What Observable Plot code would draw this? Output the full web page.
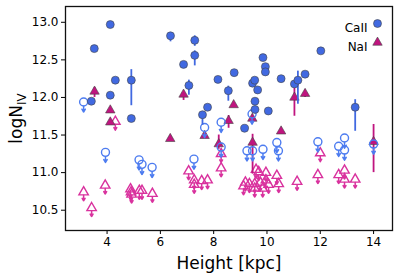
<!DOCTYPE html>
<html><head><meta charset="utf-8">
<script src="https://cdn.jsdelivr.net/npm/d3@7"></script>
<script src="https://cdn.jsdelivr.net/npm/@observablehq/plot@0.6"></script>
<style>body{margin:0;background:#fff}</style>
</head><body><div id="chart"></div>
<script>
// CaII detections: [height, logN, errLow, errHigh]
const caDet = [
 [3.41,11.95,null,null],[3.52,12.65,12.60,12.65],[4.12,12.97,null,null],[4.12,12.03,null,null],
 [4.31,12.23,12.18,12.23],[4.91,12.23,11.89,12.37],[4.91,11.72,null,null],[6.38,12.82,12.74,12.82],
 [6.87,12.44,null,null],[7.07,12.16,12.03,12.23],[7.29,12.76,12.68,12.82],[7.29,12.56,12.42,12.62],
 [7.58,11.77,11.63,11.77],[7.77,11.87,null,null],[8.16,12.24,null,null],[8.55,12.09,11.95,12.15],
 [8.77,12.33,null,null],[9.16,11.59,null,null],[9.46,12.19,null,null],[9.54,12.23,null,null],
 [9.55,11.95,null,null],[9.55,11.84,null,null],[9.65,12.10,null,null],[9.85,12.53,null,null],
 [9.94,12.41,null,null],[9.94,12.34,null,null],[10.05,11.82,null,null],[10.53,12.25,null,null],
 [11.03,12.18,null,null],[11.16,12.23,11.91,12.35],[11.43,12.31,null,null],[12.02,12.62,null,null],
 [13.31,11.87,11.55,11.97]
];
// CaII upper limits: [height, logN]
const caLim = [
 [3.12,11.94],[3.94,11.27],[5.20,11.17],[5.31,11.11],[5.69,11.07],[7.26,11.18],[7.66,11.60],
 [8.28,11.67],[8.28,11.34],[9.44,11.78],[9.25,11.29],[9.46,11.29],[9.85,11.31],[10.37,11.40],
 [10.43,11.29],[11.91,11.41],[12.69,11.35],[12.91,11.46],[12.91,11.30],[14.0,11.38]
];
// NaI detections: [height, logN, errLow, errHigh]
const naDet = [
 [3.53,12.08,12.00,12.13],[4.12,11.83,null,null],[4.12,11.67,null,null],[6.37,11.45,null,null],
 [6.87,12.04,11.96,12.06],[7.66,11.49,null,null],[8.19,11.38,11.31,11.50],[8.56,11.69,11.59,11.76],
 [8.75,11.90,null,null],[9.45,11.72,null,null],[9.46,11.40,10.98,11.51],[10.53,11.55,null,null],
 [11.03,12.00,11.75,12.12],[11.43,12.05,12.00,12.10],[14.0,11.41,11.00,11.64]
];
// NaI upper limits: [height, logN]
const naLim = [
 [3.12,10.74],[3.42,10.53],[3.93,10.83],[4.31,11.68],[4.88,10.78],[4.90,10.74],[4.92,10.71],
 [5.21,10.76],[5.31,10.76],[5.70,10.72],[7.06,11.02],[7.27,10.90],[7.27,10.84],[7.55,10.89],
 [7.77,10.90],[8.28,11.25],[8.28,11.06],
 [9.12,10.82],[9.19,10.87],[9.34,10.85],[9.54,10.85],[9.54,10.79],[9.59,11.04],[9.69,11.01],
 [9.75,10.87],[9.84,10.79],[9.96,11.00],[9.96,10.90],[10.06,10.84],[10.37,10.96],[10.44,10.85],
 [11.13,10.88],[12.0,11.26],[11.91,10.97],[12.69,10.97],[12.91,11.03],[12.91,10.91],[13.31,10.91]
];
const xTicks = [4,6,8,10,12,14];
const yTicks = [10.5,11.0,11.5,12.0,12.5,13.0];
const legendLabels = ["CaII","NaI"];

const blue = "#4169e1", blueOpen = "#4d7cf0";
const mag = "#c0147f", magOpen = "#d9329e";
const caErr = caDet.filter(d => d[2] != null);
const naErr = naDet.filter(d => d[2] != null);

const plot = Plot.plot({
  width: 398, height: 276,
  marginLeft: 65, marginRight: 6, marginTop: 6, marginBottom: 46,
  style: {fontFamily: "DejaVu Sans, sans-serif", fontSize: "12px", color: "#000", background: "#fff"},
  x: {domain: [2.44, 14.71]},
  y: {domain: [10.23, 13.21]},
  marks: [
    Plot.axisX({ticks: xTicks, tickSize: 4, tickPadding: 3, fontSize: 12, label: "Height [kpc]", labelAnchor: "center", labelArrow: "none", labelOffset: 38}),
    Plot.axisY({ticks: yTicks, tickFormat: d3.format(".1f"), tickSize: 4, tickPadding: 3, fontSize: 12, label: "logN", labelAnchor: "center", labelArrow: "none", labelOffset: 56}),
    // NaI upper limits
    Plot.arrow(naLim, {x1: d => d[0], y1: d => d[1], x2: d => d[0], y2: d => d[1] - 0.115, stroke: magOpen, strokeWidth: 1.5, headLength: 3.5, insetStart: 3}),
    Plot.dot(naLim, {x: d => d[0], y: d => d[1], symbol: "triangle", r: 3.5, stroke: magOpen, strokeWidth: 1.4, fill: "none"}),
    // NaI detections
    Plot.ruleX(naErr, {x: d => d[0], y1: d => d[2], y2: d => d[3], stroke: mag, strokeWidth: 1.8}),
    Plot.dot(naDet, {x: d => d[0], y: d => d[1], symbol: "triangle", r: 3.5, fill: mag, stroke: "#444", strokeWidth: 0.6}),
    // CaII upper limits
    Plot.arrow(caLim, {x1: d => d[0], y1: d => d[1], x2: d => d[0], y2: d => d[1] - 0.135, stroke: blueOpen, strokeWidth: 1.5, headLength: 3.5, insetStart: 4.2}),
    Plot.dot(caLim, {x: d => d[0], y: d => d[1], r: 4, stroke: blueOpen, strokeWidth: 1.4, fill: "none"}),
    // CaII detections
    Plot.ruleX(caErr, {x: d => d[0], y1: d => d[2], y2: d => d[3], stroke: blue, strokeWidth: 1.8}),
    Plot.dot(caDet, {x: d => d[0], y: d => d[1], r: 4, fill: blue, stroke: "#444", strokeWidth: 0.6}),
    Plot.frame({stroke: "#111", strokeWidth: 1.3}),
    // legend
    Plot.text([legendLabels[0]], {text: d => d, frameAnchor: "top-right", dx: -25, dy: 17, textAnchor: "end", fontSize: 12, fill: "#000"}),
    Plot.dot([0], {frameAnchor: "top-right", dx: -15, dy: 17, r: 4, fill: blue, stroke: "#444", strokeWidth: 0.6}),
    Plot.text([legendLabels[1]], {text: d => d, frameAnchor: "top-right", dx: -25, dy: 36, textAnchor: "end", fontSize: 12, fill: "#000"}),
    Plot.dot([0], {frameAnchor: "top-right", dx: -15, dy: 36, r: 3.5, symbol: "triangle", fill: mag, stroke: "#444", strokeWidth: 0.6})
  ]
});
document.getElementById("chart").append(plot);
const svg = d3.select(plot);
svg.selectAll('[aria-label="x-axis label"] text').attr("font-size", 17);
const yl = svg.selectAll('[aria-label="y-axis label"] text').attr("font-size", 17);
yl.each(function() {
  const t = d3.select(this);
  t.text(null);
  t.append("tspan").text("logN");
  t.append("tspan").attr("font-size", "0.7em").attr("dy", "0.35em").text("IV");
});
</script></body></html>
